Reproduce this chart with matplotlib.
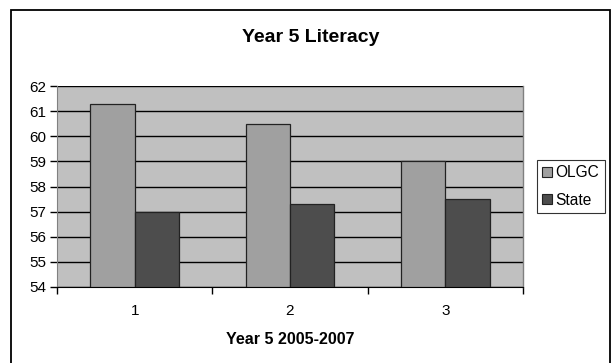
import numpy as np
import matplotlib
matplotlib.use("Agg")
import matplotlib.pyplot as plt
from matplotlib.patches import Rectangle

plt.rcParams['font.family'] = ['Liberation Sans', 'DejaVu Sans']

categories = ["1", "2", "3"]
olgc = [61.3, 60.5, 59.0]
state = [57.0, 57.3, 57.5]
series_names = ["OLGC", "State"]
yticks = list(range(54, 63))

W, H = 614, 363
fig = plt.figure(figsize=(W / 100, H / 100), dpi=100)
fig.patch.set_facecolor("white")

# outer chart frame
fig.add_artist(Rectangle((11 / W, -0.05), 599 / W, 1.05 - 10 / H,
                         transform=fig.transFigure, fill=False,
                         edgecolor="black", linewidth=1.3))

ax = fig.add_axes([57 / W, 1 - 287 / H, (523 - 57) / W, (287 - 86) / H])
ax.set_facecolor("#C0C0C0")

x = np.arange(len(categories))
bw = 1 / 3.5
ax.bar(x - bw / 2, np.array(olgc) - 54, bw, bottom=54, color="#A0A0A0",
       edgecolor="#222222", linewidth=0.9, label=series_names[0], zorder=3)
ax.bar(x + bw / 2, np.array(state) - 54, bw, bottom=54, color="#4D4D4D",
       edgecolor="#222222", linewidth=0.9, label=series_names[1], zorder=3)

ax.set_xlim(-0.5, len(categories) - 0.5)
ax.set_ylim(54, 62)
ax.set_yticks(yticks)
ax.yaxis.grid(True, color="black", linewidth=1.0, zorder=1)
ax.set_axisbelow(True)

ax.set_xticks(x)
ax.set_xticklabels(categories)
ax.set_xticks(np.arange(len(categories) + 1) - 0.5, minor=True)
ax.tick_params(axis="x", which="major", length=0, pad=12.5, labelsize=11)
ax.tick_params(axis="x", which="minor", length=5, width=1, color="black",
               direction="out")
ax.tick_params(axis="y", length=5, width=1, color="black", direction="out",
               labelsize=11, pad=3)

for side in ("top", "right"):
    ax.spines[side].set_color("#808080")
    ax.spines[side].set_linewidth(1)
ax.spines["left"].set_color("#808080")
ax.spines["bottom"].set_color("black")
ax.spines["top"].set_visible(False)

ax.set_xlabel("Year 5 2005-2007", fontsize=11.5, fontweight="bold",
              labelpad=10)
fig.text(311 / W, 1 - 37.5 / H, "Year 5 Literacy", ha="center", va="center",
         fontsize=14, fontweight="bold")

leg = fig.legend(loc="upper left", bbox_to_anchor=(537 / W, 1 - 160 / H),
                 frameon=True, fancybox=False, edgecolor="black",
                 handlelength=0.6, handleheight=0.6, handletextpad=0.25,
                 borderpad=0.35, labelspacing=0.8, borderaxespad=0,
                 fontsize=11.2)
leg.get_frame().set_linewidth(0.8)
for h in leg.legend_handles:
    h.set_linewidth(0.8)

fig.savefig("out.png", dpi=100)
